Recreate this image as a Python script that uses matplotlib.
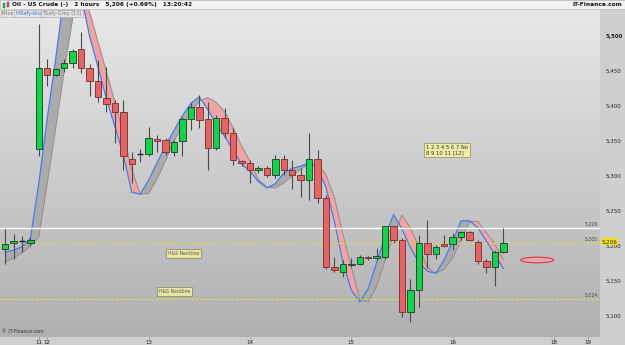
import numpy as np
import matplotlib
matplotlib.use('Agg')
import matplotlib.pyplot as plt
from matplotlib.patches import Rectangle, Ellipse

# --- 2h candles, Oil - US Crude ---
opens = [5196, 5204, 5207, 5204, 5338, 5455, 5444, 5454, 5462, 5481,
         5455, 5436, 5412, 5404, 5391, 5325, 5332, 5331, 5353, 5351,
         5335, 5350, 5382, 5399, 5381, 5340, 5383, 5361, 5321, 5318,
         5308, 5311, 5302, 5324, 5309, 5301, 5294, 5325, 5268, 5170,
         5163, 5173, 5175, 5184, 5183, 5185, 5228, 5209, 5106, 5137,
         5204, 5188, 5203, 5203, 5213, 5220, 5206, 5179, 5170, 5192]
highs = [5224, 5217, 5214, 5213, 5517, 5467, 5455, 5467, 5482, 5506,
         5460, 5466, 5456, 5409, 5409, 5335, 5339, 5370, 5359, 5355,
         5351, 5385, 5404, 5416, 5406, 5387, 5397, 5368, 5323, 5323,
         5314, 5314, 5330, 5330, 5323, 5311, 5361, 5337, 5273, 5185,
         5180, 5183, 5187, 5186, 5197, 5229, 5229, 5211, 5153, 5216,
         5237, 5201, 5216, 5218, 5221, 5221, 5209, 5182, 5194, 5226]
lows = [5174, 5181, 5191, 5200, 5328, 5429, 5443, 5448, 5454, 5447,
        5414, 5406, 5392, 5347, 5309, 5290, 5320, 5328, 5335, 5330,
        5329, 5328, 5366, 5368, 5309, 5337, 5354, 5316, 5314, 5290,
        5305, 5298, 5297, 5301, 5282, 5270, 5266, 5261, 5167, 5163,
        5156, 5170, 5173, 5180, 5180, 5182, 5204, 5098, 5092, 5113,
        5168, 5182, 5199, 5194, 5209, 5207, 5174, 5161, 5143, 5190]
closes = [5203, 5207, 5207, 5209, 5455, 5444, 5453, 5462, 5479, 5454,
          5436, 5413, 5403, 5391, 5328, 5317, 5332, 5354, 5350, 5335,
          5348, 5381, 5399, 5380, 5340, 5383, 5361, 5323, 5318, 5309,
          5311, 5302, 5324, 5309, 5301, 5294, 5324, 5268, 5170, 5166,
          5174, 5175, 5185, 5183, 5186, 5228, 5209, 5106, 5137, 5204,
          5188, 5198, 5200, 5213, 5220, 5209, 5178, 5170, 5192, 5205]

hirafy_blue = [5191, 5194, 5199, 5211, 5290, 5383, 5468, 5560, 5590, 5560,
               5500, 5456, 5410, 5371, 5330, 5277, 5274, 5294, 5319, 5343,
               5365, 5386, 5404, 5413, 5395, 5374, 5357, 5337, 5317, 5307,
               5292, 5283, 5289, 5304, 5311, 5314, 5319, 5311, 5284, 5235,
               5177, 5137, 5120, 5139, 5176, 5213, 5245, 5224, 5198, 5176,
               5164, 5161, 5180, 5207, 5236, 5236, 5226, 5207, 5188, 5168]
tsafy_grey = [5177, 5183, 5190, 5200, 5213, 5290, 5369, 5450, 5525, 5575,
              5535, 5492, 5449, 5406, 5361, 5309, 5274, 5275, 5296, 5322,
              5350, 5370, 5389, 5407, 5412, 5405, 5392, 5369, 5343, 5321,
              5295, 5284, 5283, 5290, 5300, 5310, 5317, 5317, 5302, 5269,
              5217, 5170, 5123, 5120, 5143, 5179, 5216, 5244, 5226, 5199,
              5169, 5161, 5167, 5183, 5208, 5235, 5235, 5219, 5203, 5180]

day_ticks = [4, 5, 17, 29, 41, 53, 65, 69]
day_labels = ['11', '12', '13', '14', '15', '16', '18', '19']
price_ticks = [5100, 5150, 5200, 5250, 5300, 5350, 5400, 5450, 5500]

last_price = 5206
white_level = 5226
neckline_levels = [5205, 5124]

W, H = 625, 345
X0, X1 = -0.6, 70.45
Y0, Y1 = 5070, 5538.6


def draw_candles(ax):
    for i, (o, h, l, c) in enumerate(zip(opens, highs, lows, closes)):
        ax.vlines(i, l, h, color='#4a4a4a', lw=0.8, zorder=4)
        if o == c:
            ax.hlines(c, i - 0.38, i + 0.38, color='#1a1a3a', lw=1.0, zorder=5)
            continue
        fc = '#14d24c' if c > o else '#e26464'
        ec = '#1f3a25' if c > o else '#7a2a2a'
        ax.add_patch(Rectangle((i - 0.38, min(o, c)), 0.76, abs(c - o),
                               fc=fc, ec=ec, lw=0.6, zorder=5))


def main():
    fig = plt.figure(figsize=(W / 100, H / 100), dpi=100, facecolor='#cfcfcf')
    ax = fig.add_axes([0, 8 / H, 600 / W, (337 - 9) / H])

    # gradient background
    grad = np.linspace(0, 1, 256).reshape(-1, 1)
    ax.imshow(grad, extent=(X0, X1, Y0, Y1), aspect='auto', origin='lower',
              cmap=matplotlib.colors.LinearSegmentedColormap.from_list(
                  'bg', ['#b0b0b0', '#e8e8e8']), zorder=0)

    x = np.arange(len(closes))
    b = np.array(hirafy_blue, float)
    g = np.array(tsafy_grey, float)
    ax.fill_between(x, b, g, where=b >= g, interpolate=True,
                    color='#ababab', lw=0, zorder=2)
    ax.fill_between(x, b, g, where=b < g, interpolate=True,
                    color='#f0a4a4', lw=0, zorder=2)
    ax.plot(x, g, color='#9a8f8f', lw=0.8, zorder=3)
    ax.plot(x, b, color='#3f7fef', lw=0.9, zorder=3)

    # levels
    ax.axhline(white_level, color='white', lw=1.0, zorder=3)
    for lv in neckline_levels:
        ax.axhline(lv, color='#e8e030', lw=0.8, ls=(0, (2, 2)), zorder=3)
    for lv in [white_level] + neckline_levels:
        ax.text(70.2, lv + 1.5, f"{lv:,}", fontsize=3.3, color='#444',
                ha='right', va='bottom', zorder=6)

    draw_candles(ax)

    # annotations
    box = dict(boxstyle='square,pad=0.45', fc='#e8e6a2', ec='#8f8f6a', lw=0.6)
    ax.text(21.1, 5189, 'H&S Neckline', fontsize=3.3, ha='center', va='center',
            color='#555', bbox=box, zorder=7)
    ax.text(20.1, 5135, 'H&S Neckline', fontsize=3.3, ha='center', va='center',
            color='#555', bbox=box, zorder=7)
    ax.text(49.9, 5337, '1 2 3 4 5 6 7 No\n8 9 10 11 [12]', fontsize=3.8,
            ha='left', va='center', color='#333', linespacing=1.1,
            bbox=dict(boxstyle='square,pad=0.4', fc='#eeeca6', ec='#999a72', lw=0.6),
            zorder=7)
    ax.add_patch(Ellipse((63.0, 5180), 3.9, 8.0, fc='#e6a6b4', ec='#e0383c',
                         lw=0.8, zorder=6))
    ax.text(0.003, 0.008, '© IT-Finance.com', transform=ax.transAxes,
            fontsize=3.4, color='#333', ha='left', va='bottom', zorder=7)

    ax.set_xlim(X0, X1)
    ax.set_ylim(Y0, Y1)
    for s in ax.spines.values():
        s.set_visible(False)

    ax.set_xticks(day_ticks)
    ax.set_xticklabels(day_labels)
    ax.tick_params(axis='x', labelsize=4, length=1.5, width=0.5, pad=0.6,
                   color='#777', labelcolor='#222')
    ax.yaxis.tick_right()
    ax.set_yticks(price_ticks)
    ax.set_yticklabels([f"{p:,}" for p in price_ticks])
    ax.tick_params(axis='y', labelsize=4, length=0, pad=4, labelcolor='#222')
    ax.get_yticklabels()[-1].set_fontweight('bold')

    tr = ax.get_yaxis_transform()
    ax.text(1.003, last_price, f"{last_price:,}", transform=tr, fontsize=4,
            ha='left', va='center', color='#222', clip_on=False, zorder=8,
            bbox=dict(boxstyle='square,pad=0.15', fc='#f2e40c', ec='none'))

    # header bar
    fig.patches.append(Rectangle((0, 1 - 9 / H), 1, 9 / H, transform=fig.transFigure,
                                 fc='#f2f2f2', ec='#b8b8b8', lw=0.5, zorder=1))
    fig.patches.append(Rectangle((3 / W, 1 - 7.5 / H), 2.2 / W, 5 / H,
                                 transform=fig.transFigure, fc='#14d24c', ec='#333',
                                 lw=0.3, zorder=2))
    fig.patches.append(Rectangle((6.5 / W, 1 - 6.5 / H), 2.2 / W, 4 / H,
                                 transform=fig.transFigure, fc='#e26464', ec='#333',
                                 lw=0.3, zorder=2))
    fig.text(12 / W, 1 - 4.6 / H,
             'Oil - US Crude (-)   2 hours   5,206 (+0.69%)   13:20:42',
             fontsize=4.2, weight='bold', va='center', ha='left', color='#111')
    fig.text(622 / W, 1 - 4.6 / H, 'IT-Finance.com', fontsize=4.2, weight='bold',
             va='center', ha='right', color='#111')
    tab = dict(boxstyle='square,pad=0.25', fc='#e4e4e4', ec='#a8a8a8', lw=0.4)
    fig.text(2 / W, 1 - 13.5 / H, 'Price', fontsize=3.6, color='#666',
             va='center', bbox=tab)
    fig.text(15 / W, 1 - 13.5 / H, 'HiRafy-blue', fontsize=3.6, color='#3f6fdf',
             va='center', bbox=tab)
    fig.text(42 / W, 1 - 13.5 / H, 'TSafy-Grey (13)', fontsize=3.6, color='#777',
             va='center', bbox=tab)

    fig.savefig('out.png', dpi=100, facecolor=fig.get_facecolor())
    plt.close(fig)


if __name__ == "__main__":
    main()
